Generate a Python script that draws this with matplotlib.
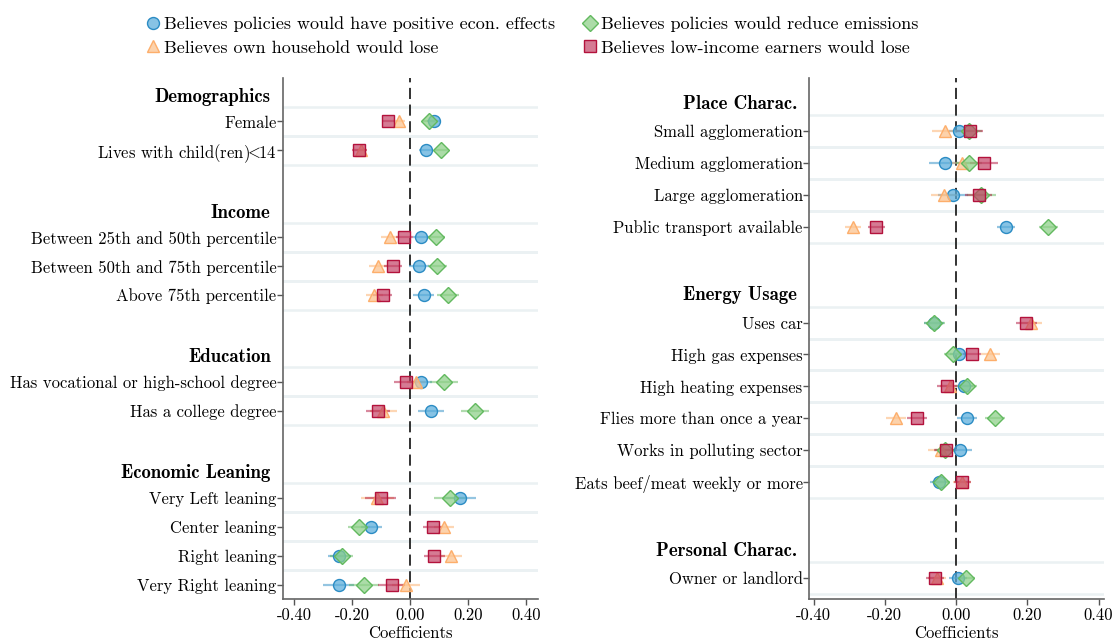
import numpy as np
import matplotlib.pyplot as plt
import matplotlib.transforms as mtransforms
from matplotlib.lines import Line2D

plt.rcParams['font.family'] = 'cmr10'
plt.rcParams['mathtext.fontset'] = 'cm'
plt.rcParams['axes.unicode_minus'] = False
plt.rcParams['lines.scale_dashes'] = False

# ---- data ----
left_groups = ["Demographics", "Income", "Education", "Economic Leaning"]
left_items = [
    ["Female", r"Lives with child(ren)$\!\!<\!\!$14"],
    ["Between 25th and 50th percentile", "Between 50th and 75th percentile", "Above 75th percentile"],
    ["Has vocational or high-school degree", "Has a college degree"],
    ["Very Left leaning", "Center leaning", "Right leaning", "Very Right leaning"],
]
left_econ = [0.082, 0.055, 0.038, 0.030, 0.046, 0.036, 0.072, 0.171, -0.134, -0.245, -0.247]
left_econ_err = [0.023, 0.025, 0.029, 0.034, 0.037, 0.040, 0.046, 0.057, 0.037, 0.039, 0.053]
left_own = [-0.039, -0.170, -0.071, -0.111, -0.124, 0.020, -0.093, -0.114, 0.116, 0.141, -0.014]
left_own_err = [0.021, 0.022, 0.030, 0.030, 0.029, 0.031, 0.046, 0.057, 0.034, 0.038, 0.049]
left_emis = [0.064, 0.106, 0.089, 0.094, 0.130, 0.116, 0.223, 0.136, -0.176, -0.237, -0.160]
left_emis_err = [0.023, 0.025, 0.032, 0.034, 0.037, 0.049, 0.049, 0.055, 0.037, 0.039, 0.052]
left_low = [-0.075, -0.175, -0.020, -0.060, -0.095, -0.015, -0.110, -0.102, 0.077, 0.083, -0.064]
left_low_err = [0.023, 0.025, 0.030, 0.031, 0.032, 0.041, 0.042, 0.054, 0.032, 0.037, 0.046]

right_groups = ["Place Charac.", "Energy Usage", "Personal Charac."]
right_items = [
    ["Small agglomeration", "Medium agglomeration", "Large agglomeration", "Public transport available"],
    ["Uses car", "High gas expenses", "High heating expenses", "Flies more than once a year",
     "Works in polluting sector", "Eats beef/meat weekly or more"],
    ["Owner or landlord"],
]
right_econ = [0.009, -0.032, -0.008, 0.140, -0.061, 0.008, 0.022, 0.031, 0.011, -0.047, 0.006]
right_econ_err = [0.030, 0.043, 0.042, 0.025, 0.028, 0.024, 0.026, 0.028, 0.033, 0.026, 0.026]
right_own = [-0.032, 0.017, -0.034, -0.290, 0.210, 0.096, -0.017, -0.170, -0.043, 0.016, -0.054]
right_own_err = [0.037, 0.037, 0.037, 0.023, 0.030, 0.026, 0.028, 0.028, 0.035, 0.025, 0.026]
right_emis = [0.037, 0.037, 0.071, 0.259, -0.061, -0.008, 0.030, 0.110, -0.030, -0.042, 0.027]
right_emis_err = [0.036, 0.036, 0.040, 0.026, 0.030, 0.026, 0.028, 0.028, 0.030, 0.026, 0.026]
right_low = [0.038, 0.078, 0.064, -0.224, 0.197, 0.044, -0.026, -0.110, -0.029, 0.018, -0.059]
right_low_err = [0.037, 0.040, 0.038, 0.024, 0.030, 0.025, 0.028, 0.028, 0.032, 0.025, 0.026]

series_names = ["Believes policies would have positive econ. effects",
                "Believes own household would lose",
                "Believes policies would reduce emissions",
                "Believes low-income earners would lose"]
xticks = [-0.4, -0.2, 0.0, 0.2, 0.4]

# marker, edge colour, face colour, size
styles = [
    ("o", "#2b8cc4", (0.35, 0.68, 0.86, 0.72), 8.6),
    ("^", "#fdae6b", (0.99, 0.77, 0.56, 0.75), 9.0),
    ("D", "#62b95f", (0.55, 0.81, 0.53, 0.72), 8.0),
    ("s", "#b3123c", (0.76, 0.24, 0.38, 0.68), 8.6),
]


def layout(groups, items):
    pos, hdr = [], []
    r = 0
    for g, it in zip(groups, items):
        hdr.append(r)
        r += 1
        for _ in it:
            pos.append(r)
            r += 1
        r += 1
    return pos, hdr


def draw_panel(ax, groups, items, data, xlim, ylim):
    pos, hdr = layout(groups, items)
    labels = [lab for it in items for lab in it]
    for p in pos:
        for yy in (p - 0.5, p + 0.5):
            ax.axhline(yy, color="#ebf1f3", lw=1.8, zorder=0)
    ax.axvline(0, color="#222222", lw=1.3, dashes=(8, 4), zorder=1)
    for (vals, errs), (m, ec, fc, ms) in zip(data, styles):
        ax.errorbar(vals, pos, xerr=errs, fmt="none", ecolor=ec, elinewidth=1.6,
                    alpha=0.5, zorder=2)
        ax.plot(vals, pos, linestyle="none", marker=m, ms=ms, mfc=fc, mec=ec,
                mew=1.0, zorder=3)
    ax.set_xlim(*xlim)
    ax.set_ylim(*ylim)
    ax.set_yticks(pos)
    ax.set_yticklabels(labels, fontsize=12)
    ax.set_xticks(xticks)
    ax.set_xticklabels(["%.2f" % t for t in xticks], fontsize=12)
    ax.tick_params(axis="both", length=4, color="#555555", width=1.0)
    ax.tick_params(axis="y", pad=0.5)
    ax.tick_params(axis="x", pad=2)
    ax.set_xlabel("Coefficients", fontsize=12, labelpad=2)
    for s in ("top", "right"):
        ax.spines[s].set_visible(False)
    for s in ("left", "bottom"):
        ax.spines[s].set_color("#666666")
        ax.spines[s].set_linewidth(1.2)
    trans = mtransforms.blended_transform_factory(ax.transAxes, ax.transData)
    trans = trans + mtransforms.ScaledTranslation(-12 / 100, 0, ax.figure.dpi_scale_trans)
    for g, h in zip(groups, hdr):
        ax.text(0, h + 0.15, g, transform=trans, ha="right", va="center",
                fontsize=13.5, family="cmb10")


fig = plt.figure(figsize=(11.18, 6.42), dpi=100)
ax1 = fig.add_axes([282.7 / 1118, 43 / 642, 255 / 1118, 521 / 642])
ax2 = fig.add_axes([809 / 1118, 43 / 642, 294.5 / 1118, 521 / 642])

draw_panel(ax1, left_groups, left_items,
           [(left_econ, left_econ_err), (left_own, left_own_err),
            (left_emis, left_emis_err), (left_low, left_low_err)],
           (-0.44, 0.44), (17.5, -0.5))
draw_panel(ax2, right_groups, right_items,
           [(right_econ, right_econ_err), (right_own, right_own_err),
            (right_emis, right_emis_err), (right_low, right_low_err)],
           (-0.413, 0.414), (15.66, -0.66))

handles = [Line2D([], [], linestyle="none", marker=m, ms=ms, mfc=fc, mec=ec, mew=1.0)
           for (m, ec, fc, ms) in styles]
for i, x0 in enumerate((146, 583)):
    fig.legend(handles[2 * i:2 * i + 2], series_names[2 * i:2 * i + 2], loc="upper left",
               bbox_to_anchor=(x0 / 1118, 1 - 16 / 642),
               frameon=False, fontsize=13, handlelength=0.8, handletextpad=0.2,
               labelspacing=0.45, borderpad=0, borderaxespad=0)

fig.savefig("out.png", dpi=100)
